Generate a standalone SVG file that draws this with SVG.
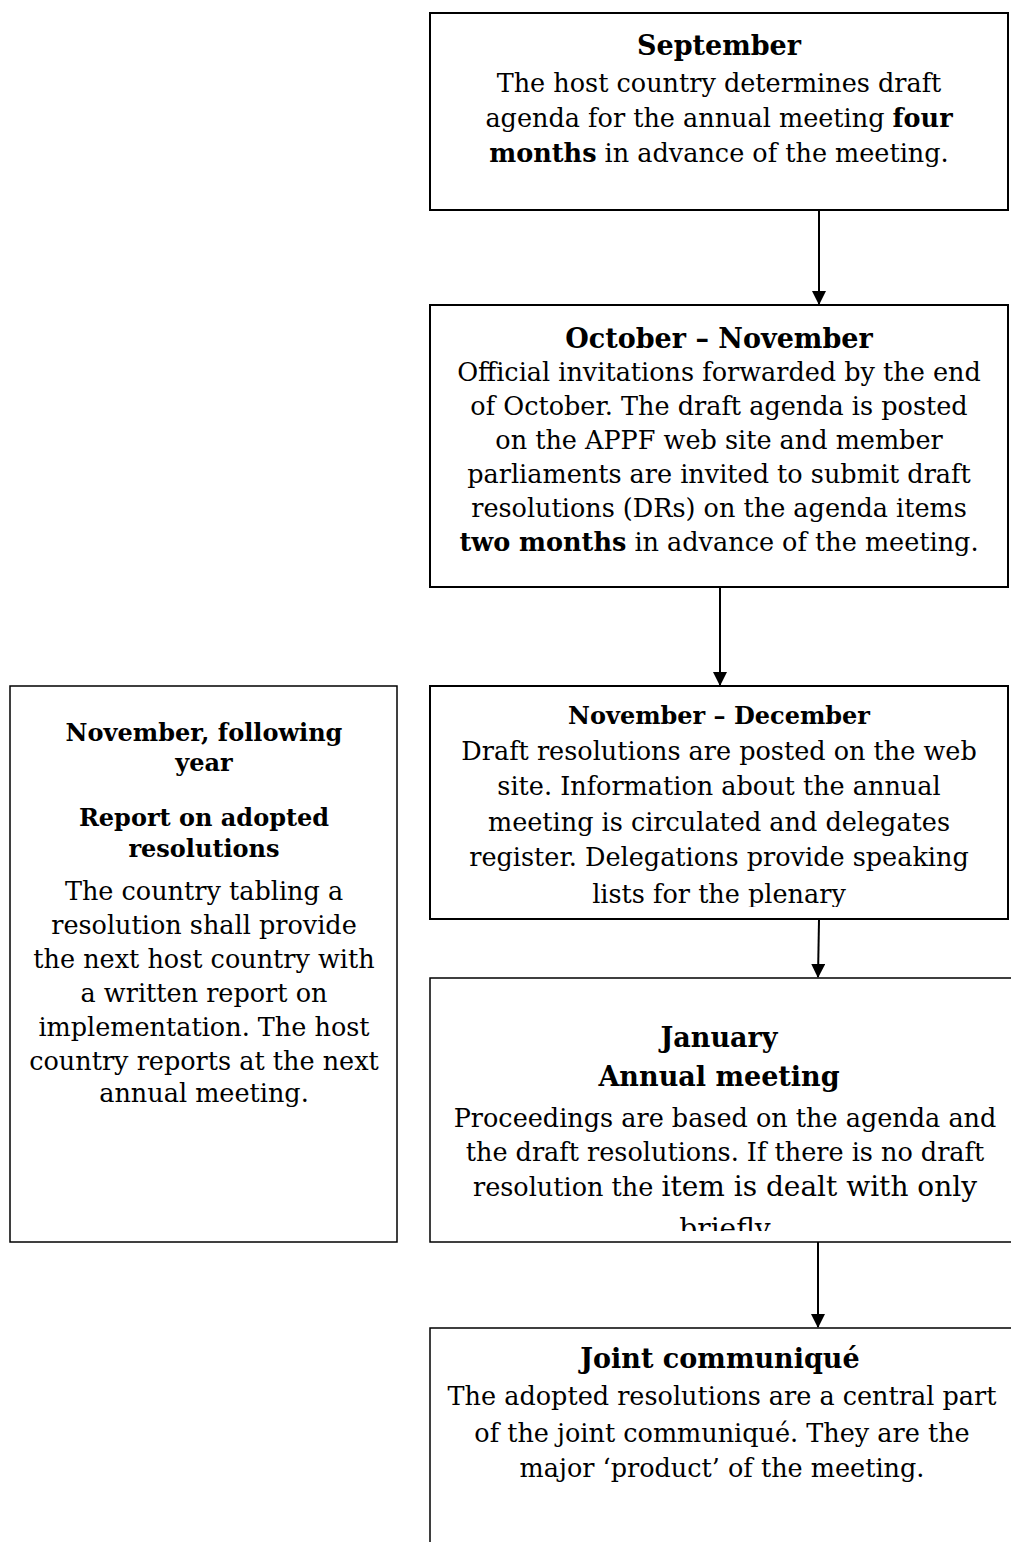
<svg xmlns="http://www.w3.org/2000/svg" width="1011" height="1542" viewBox="0 0 1011 1542">
<style>
text{font-family:"DejaVu Serif","Liberation Serif",serif;fill:#000;text-anchor:middle}
.b{font-size:25.5px}
.t{font-size:27px;font-weight:bold}
.ts{font-size:24px;font-weight:bold}
.bb{font-weight:bold}
.box{fill:#fff;stroke:#000;stroke-width:2}
.thin{fill:#fff;stroke:#000;stroke-width:1.5}
.con{stroke:#000;stroke-width:2;fill:none}
</style>
<defs>
<marker id="ah" markerWidth="14" markerHeight="14" refX="13" refY="7" orient="auto" markerUnits="userSpaceOnUse">
<path d="M0,0 L14,7 L0,14 Z" fill="#000"/>
</marker>
<clipPath id="c3"><rect x="430" y="686" width="578" height="221"/></clipPath>
<clipPath id="c4"><rect x="430" y="978" width="590" height="253"/></clipPath>
</defs>
<g id="connectors">
<line class="con" x1="819" y1="210" x2="819" y2="304" marker-end="url(#ah)"/>
<line class="con" x1="720" y1="587" x2="720" y2="685" marker-end="url(#ah)"/>
<line class="con" x1="819" y1="920" x2="818" y2="977" marker-end="url(#ah)"/>
<line class="con" x1="818" y1="1242" x2="818" y2="1327" marker-end="url(#ah)"/>
</g>
<g id="september">
<rect class="box" x="430" y="13" width="578" height="197"/>
<text class="t" x="719" y="55">September</text>
<text class="b" x="719" y="92">The host country determines draft</text>
<text class="b" x="719" y="127">agenda for the annual meeting <tspan class="bb">four</tspan></text>
<text class="b" x="719" y="162"><tspan class="bb">months</tspan> in advance of the meeting.</text>
</g>
<g id="october-november">
<rect class="box" x="430" y="305" width="578" height="282"/>
<text class="t" x="719" y="348">October – November</text>
<text class="b" x="719" y="381">Official invitations forwarded by the end</text>
<text class="b" x="719" y="415">of October. The draft agenda is posted</text>
<text class="b" x="719" y="449">on the APPF web site and member</text>
<text class="b" x="719" y="483">parliaments are invited to submit draft</text>
<text class="b" x="719" y="517">resolutions (DRs) on the agenda items</text>
<text class="b" x="719" y="551"><tspan class="bb">two months</tspan> in advance of the meeting.</text>
</g>
<g id="november-december">
<rect class="box" x="430" y="686" width="578" height="233"/>
<g clip-path="url(#c3)">
<text class="ts" x="719" y="724">November – December</text>
<text class="b" x="719" y="760">Draft resolutions are posted on the web</text>
<text class="b" x="719" y="795">site. Information about the annual</text>
<text class="b" x="719" y="831">meeting is circulated and delegates</text>
<text class="b" x="719" y="866">register. Delegations provide speaking</text>
<text class="b" x="719" y="903">lists for the plenary</text>
</g>
</g>
<g id="january">
<rect class="thin" x="430" y="978" width="600" height="264"/>
<g clip-path="url(#c4)">
<text class="t" x="719" y="1047">January</text>
<text class="t" x="719" y="1086">Annual meeting</text>
<text class="b" x="725" y="1127">Proceedings are based on the agenda and</text>
<text class="b" x="725" y="1161">the draft resolutions. If there is no draft</text>
<text class="b" x="725" y="1196"><tspan>resolution the </tspan><tspan style="font-size:28px">item is dealt with only</tspan></text>
<text class="b" x="725" y="1238" style="font-size:28px">briefly</text>
</g>
</g>
<g id="joint-communique">
<path class="thin" d="M430,1542 V1328 H1030"/>
<text class="t" x="720" y="1368">Joint communiqué</text>
<text class="b" x="722" y="1405">The adopted resolutions are a central part</text>
<text class="b" x="722" y="1442">of the joint communiqué. They are the</text>
<text class="b" x="722" y="1477">major ‘product’ of the meeting.</text>
</g>
<g id="report">
<rect class="thin" x="10" y="686" width="387" height="556"/>
<text class="ts" x="204" y="741">November, following</text>
<text class="ts" x="204" y="771">year</text>
<text class="ts" x="204" y="826">Report on adopted</text>
<text class="ts" x="204" y="857">resolutions</text>
<text class="b" x="204" y="900">The country tabling a</text>
<text class="b" x="204" y="934">resolution shall provide</text>
<text class="b" x="204" y="968">the next host country with</text>
<text class="b" x="204" y="1002">a written report on</text>
<text class="b" x="204" y="1036">implementation. The host</text>
<text class="b" x="204" y="1070">country reports at the next</text>
<text class="b" x="204" y="1102">annual meeting.</text>
</g>
</svg>
